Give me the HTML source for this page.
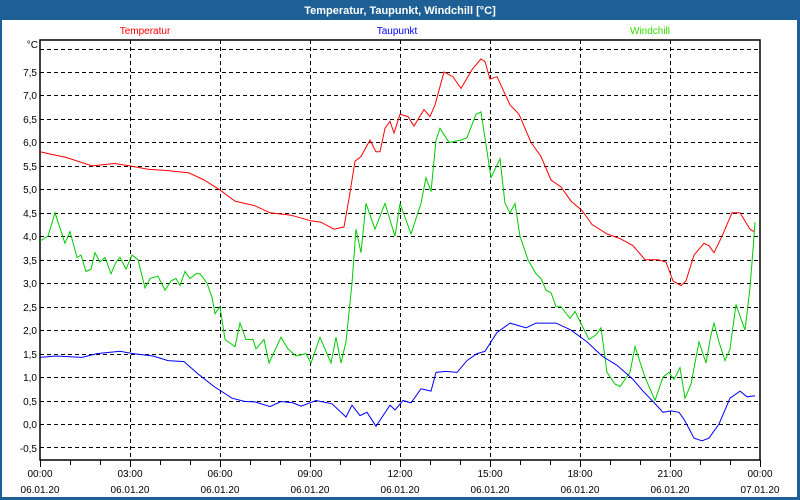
<!DOCTYPE html>
<html><head><meta charset="utf-8"><style>
body{margin:0;background:#fff;}
svg{display:block;font-family:"Liberation Sans",sans-serif;}
</style></head><body>
<svg id="c" width="800" height="500" xmlns="http://www.w3.org/2000/svg">
<rect x="0" y="0" width="800" height="500" fill="#fff"/>
<rect x="0" y="0" width="800" height="20" fill="#1e6096"/>
<rect x="0" y="0" width="2" height="500" fill="#1e6096"/>
<rect x="797" y="0" width="3" height="500" fill="#1e6096"/>
<rect x="0" y="497" width="800" height="3" fill="#1e6096"/>
<text x="400" y="14" fill="#fff" font-size="11" font-weight="bold" text-anchor="middle">Temperatur, Taupunkt, Windchill [°C]</text>
<text x="145" y="34" fill="#ff0000" font-size="10" text-anchor="middle">Temperatur</text>
<text x="397" y="34" fill="#0000ff" font-size="10" text-anchor="middle">Taupunkt</text>
<text x="650" y="34" fill="#33dd00" font-size="10" text-anchor="middle">Windchill</text>
<g id="grid"></g>
<rect x="40" y="40" width="720" height="420" fill="none" stroke="#000" stroke-width="1.5"/>
<g font-size="10" fill="#000" text-anchor="end">
<text x="38" y="48">°C</text>
<text x="37" y="76">7,5</text><text x="37" y="99">7,0</text><text x="37" y="123">6,5</text>
<text x="37" y="146">6,0</text><text x="37" y="170">5,5</text><text x="37" y="193">5,0</text>
<text x="37" y="217">4,5</text><text x="37" y="240">4,0</text><text x="37" y="264">3,5</text>
<text x="37" y="287">3,0</text><text x="37" y="311">2,5</text><text x="37" y="334">2,0</text>
<text x="37" y="358">1,5</text><text x="37" y="381">1,0</text><text x="37" y="405">0,5</text>
<text x="37" y="428">0,0</text><text x="37" y="452">-0,5</text>
</g>
<g font-size="10" fill="#000" text-anchor="middle">
<text x="40" y="477">00:00</text><text x="40" y="493">06.01.20</text>
<text x="130" y="477">03:00</text><text x="130" y="493">06.01.20</text>
<text x="220" y="477">06:00</text><text x="220" y="493">06.01.20</text>
<text x="310" y="477">09:00</text><text x="310" y="493">06.01.20</text>
<text x="400" y="477">12:00</text><text x="400" y="493">06.01.20</text>
<text x="490" y="477">15:00</text><text x="490" y="493">06.01.20</text>
<text x="580" y="477">18:00</text><text x="580" y="493">06.01.20</text>
<text x="670" y="477">21:00</text><text x="670" y="493">06.01.20</text>
<text x="760" y="477">00:00</text><text x="760" y="493">07.01.20</text>
</g>
<g id="lines"></g>
</svg>
<script>
var NS="http://www.w3.org/2000/svg";
function Y(v){return 424-46.93*v;}
var g=document.getElementById('grid'),h='';
for(var v=-0.5;v<=8.01;v+=0.5){var y=Math.round(Y(v))+0.5;h+='<line x1="40" x2="760" y1="'+y+'" y2="'+y+'" stroke="#000" stroke-dasharray="4,3"/>';}
for(var i=1;i<8;i++){var x=40+i*90+0.5;h+='<line x1="'+x+'" x2="'+x+'" y1="40" y2="460" stroke="#000" stroke-dasharray="4,3"/>';}
for(var i=0;i<=24;i++){var x=40+i*30+0.5;h+='<line x1="'+x+'" x2="'+x+'" y1="460" y2="'+(i%3==0?467:465)+'" stroke="#000"/>';}
g.innerHTML=h;
var T=[40,5.8,51,5.75,66,5.68,92,5.5,115,5.55,130,5.5,148,5.43,168,5.4,189,5.35,204,5.2,219,5.0,235,4.75,255,4.65,270,4.5,291,4.45,311,4.33,321,4.3,334,4.15,344,4.2,349,4.8,355,5.6,361,5.7,370,6.05,376,5.8,380,5.8,385,6.3,390,6.45,394,6.2,400,6.6,408,6.55,414,6.35,424,6.7,430,6.55,435,6.8,444,7.5,453,7.4,461,7.15,472,7.55,481,7.78,485,7.72,490,7.35,497,7.4,510,6.8,519,6.6,531,6.0,541,5.7,551,5.2,561,5.05,571,4.75,582,4.55,592,4.25,607,4.05,620,3.95,633,3.8,645,3.5,658,3.5,666,3.45,673,3.05,681,2.95,686,3.05,694,3.6,704,3.85,709,3.8,714,3.65,722,4.0,732,4.5,740,4.5,750,4.15,754,4.1];
var D=[40,1.42,56,1.45,82,1.42,97,1.5,120,1.55,133,1.5,153,1.45,168,1.35,184,1.33,199,1.05,214,0.8,232,0.55,245,0.48,255,0.47,270,0.37,281,0.48,293,0.45,301,0.38,316,0.5,332,0.43,346,0.15,352,0.4,360,0.18,367,0.25,376,-0.05,390,0.4,395,0.3,403,0.5,411,0.45,421,0.75,431,0.7,436,1.1,446,1.12,457,1.1,467,1.35,477,1.5,485,1.55,497,1.95,510,2.15,526,2.05,536,2.15,556,2.15,571,2.0,587,1.75,602,1.45,617,1.25,633,0.95,643,0.7,653,0.48,663,0.25,671,0.28,679,0.25,684,0.1,694,-0.3,702,-0.36,709,-0.3,719,0.0,730,0.55,740,0.7,747,0.58,755,0.6];
var W=[40,3.9,48,4.0,55,4.5,65,3.85,70,4.1,77,3.55,81,3.6,86,3.25,91,3.3,95,3.65,100,3.45,105,3.55,111,3.2,116,3.45,120,3.55,126,3.3,132,3.6,138,3.5,145,2.9,150,3.1,158,3.15,165,2.85,171,3.05,176,3.1,180,2.95,185,3.25,190,3.1,196,3.2,200,3.2,207,3.0,212,2.7,215,2.35,220,2.5,225,1.8,235,1.65,240,2.15,246,1.8,253,1.8,256,1.6,264,1.8,269,1.3,281,1.85,288,1.6,296,1.45,306,1.5,311,1.3,320,1.85,331,1.3,336,1.85,341,1.3,346,1.75,352,3.0,356,4.15,361,3.65,366,4.7,375,4.15,385,4.7,395,4.0,400,4.7,411,4.05,421,4.7,426,5.25,431,4.95,436,6.05,440,6.3,449,6.0,461,6.05,467,6.1,476,6.6,481,6.65,491,5.25,500,5.65,505,4.7,510,4.5,515,4.7,520,4.0,528,3.5,536,3.2,541,3.1,546,2.85,551,2.8,556,2.5,561,2.5,570,2.25,575,2.4,582,2.1,589,1.8,596,1.9,601,2.05,607,1.1,615,0.85,620,0.8,630,1.1,635,1.65,645,1.0,655,0.5,663,1.0,669,1.1,674,0.95,680,1.2,685,0.55,691,0.85,699,1.75,706,1.3,711,1.9,714,2.15,719,1.75,725,1.35,730,1.6,736,2.55,740,2.3,745,2.0,750,2.9,754,4.0,755,4.3];
function pl(d,c){var p=[];for(var i=0;i<d.length;i+=2){p.push(d[i]+','+Y(d[i+1]).toFixed(1));}
var e=document.createElementNS(NS,'polyline');e.setAttribute('points',p.join(' '));e.setAttribute('fill','none');e.setAttribute('stroke',c);e.setAttribute('stroke-width','1');document.getElementById('lines').appendChild(e);}
pl(W,'#00cc00');pl(D,'#0000ff');pl(T,'#ff0000');
</script>
</body></html>
